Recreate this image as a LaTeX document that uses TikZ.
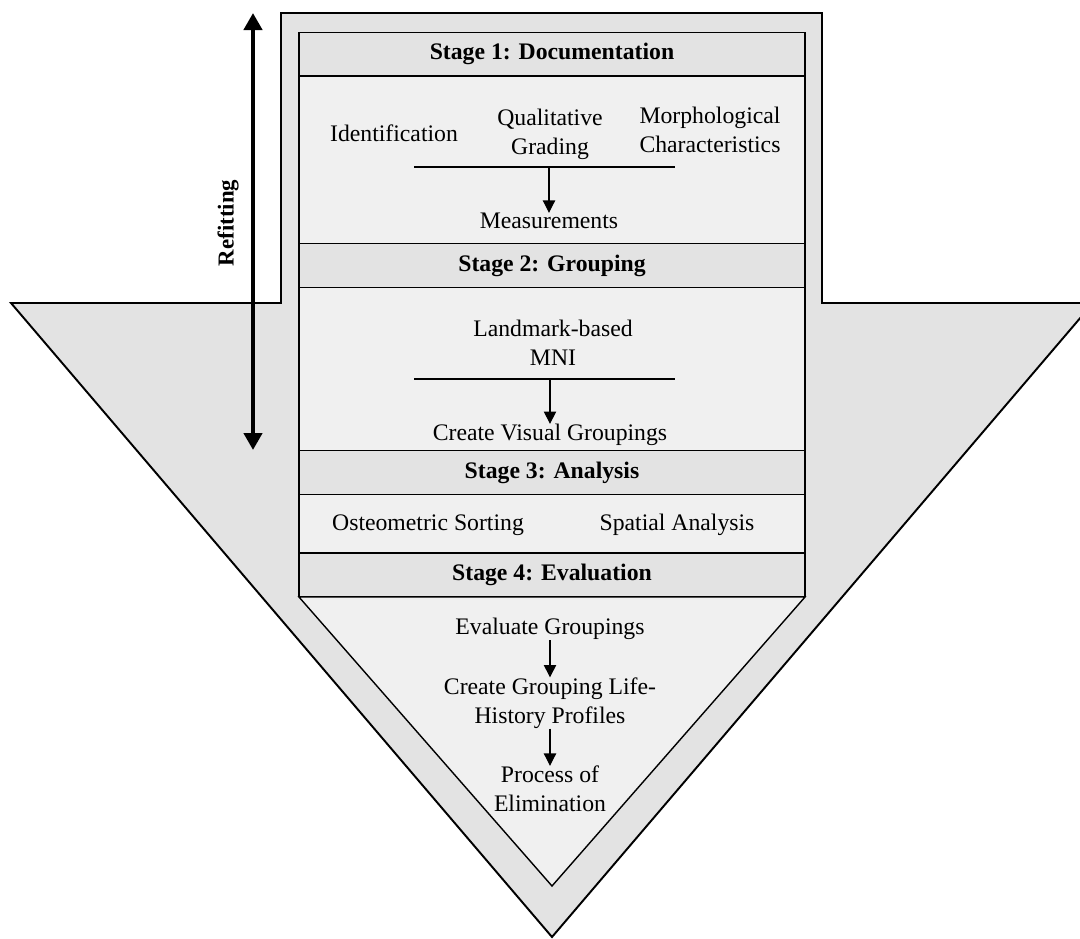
\documentclass[tikz,border=0pt]{standalone}
\usepackage{fontspec}
\setmainfont{Liberation Serif}
\usetikzlibrary{arrows.meta}
\definecolor{shellgray}{gray}{0.89}
\definecolor{headgray}{gray}{0.89}
\definecolor{bodygray}{gray}{0.94}
\tikzset{
	stagehead/.style={draw, line width=0.8pt, fill=headgray, minimum width=10.12cm, minimum height=0.87cm, inner sep=0pt, font=\fontsize{13.5}{16.4}\selectfont\bfseries},
	stagebody/.style={draw, line width=0.8pt, fill=bodygray},
	item/.style={align=center, inner sep=0pt, font=\fontsize{13.5}{16.4}\selectfont},
	flow/.style={-{Triangle[width=7pt,length=7pt]}, line width=0.6pt},
	bar/.style={line width=0.6pt}
}

\begin{document}
\begin{tikzpicture}[x=0.02cm,y=-0.02cm]
	\useasboundingbox (0,0) rectangle (1080,938);
	\clip (0,0) rectangle (1080,938);

	\draw[line width=1.1pt, fill=shellgray] (281,13) -- (822,13) -- (822,303) -- (1093,303) -- (552,937) -- (11,303) -- (281,303) -- cycle;

	\draw[stagebody] (299,76) rectangle (805,244);
	\draw[stagebody] (299,287) rectangle (805,451);
	\draw[stagebody] (299,494) rectangle (805,553);
	\draw[stagebody] (299,597) -- (805,597) -- (552,886) -- cycle;

	\node[stagehead] (s1) at (552,54) {Stage 1: Documentation};
	\node[stagehead] (s2) at (552,265.5) {Stage 2: Grouping};
	\node[stagehead] (s3) at (552,472.5) {Stage 3: Analysis};
	\node[stagehead] (s4) at (552,575) {Stage 4: Evaluation};

	\node[item] (ident) at (394,133) {Identification};
	\node[item] (qual) at (550,134) {Qualitative\\Grading};
	\node[item] (morph) at (710,130) {Morphological\\Characteristics};
	\coordinate (bar1l) at (414,167);
	\coordinate (bar1r) at (675,167);
	\coordinate (bar1) at (549,167);
	\node[item] (meas) at (549,221) {Measurements};
	\draw[bar] (bar1l) -- (bar1r);
	\draw[flow] (bar1) -- (meas.north);

	\node[item] (landmark) at (553,343) {Landmark-based\\MNI};
	\coordinate (bar2l) at (414,379);
	\coordinate (bar2r) at (675,379);
	\coordinate (bar2) at (550,379);
	\node[item] (visual) at (550,435) {Create Visual Groupings};
	\draw[bar] (bar2l) -- (bar2r);
	\draw[flow] (bar2) -- (visual.north);

	\node[item] (osteo) at (428,525) {Osteometric Sorting};
	\node[item] (spatial) at (677,525) {Spatial Analysis};

	\node[item] (evalg) at (550,629) {Evaluate Groupings};
	\node[item] (life) at (550,703) {Create Grouping Life-\\History Profiles};
	\node[item] (elim) at (550,789) {Process of\\Elimination};
	\draw[flow] (evalg.south) -- (life.north);
	\draw[flow] (life.south) -- (elim.north);

	\coordinate (rtop) at (253,13);
	\coordinate (rbot) at (253,450);
	\draw[{Triangle[width=0.36cm,length=0.34cm]}-{Triangle[width=0.36cm,length=0.34cm]}, line width=2.8pt] (rtop) -- (rbot);
	\node[rotate=90, inner sep=0pt, font=\fontsize{13}{15.6}\selectfont\bfseries] (refit) at (228,223) {Refitting};
\end{tikzpicture}
\end{document}
